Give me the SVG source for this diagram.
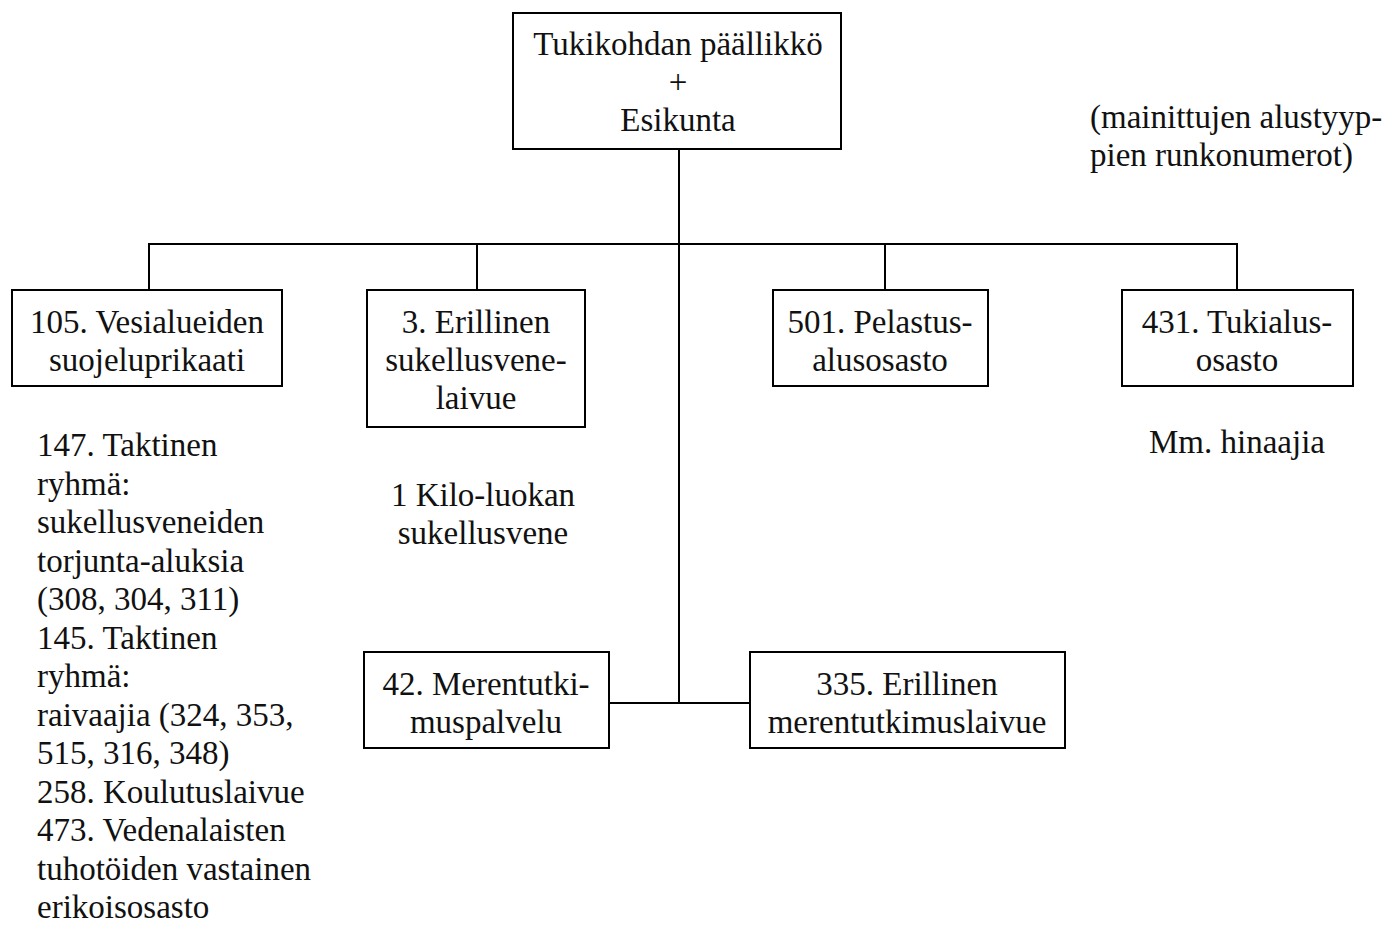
<svg xmlns="http://www.w3.org/2000/svg" width="1382" height="927" viewBox="0 0 1382 927">
<style>
.box{fill:#fff;stroke:#000;stroke-width:2}
.ln{fill:none;stroke:#000;stroke-width:2}
text{font-family:"Liberation Serif","DejaVu Serif",serif;font-size:33px;fill:#111}
.c{text-anchor:middle}
</style>
<rect width="1382" height="927" fill="#fff"/>
<g id="connectors">
<path class="ln" d="M679 149 V703"/>
<path class="ln" d="M149 290 V244 H1237 V290"/>
<path class="ln" d="M477 244 V290"/>
<path class="ln" d="M885 244 V290"/>
<path class="ln" d="M609 703 H750"/>
</g>
<g id="n-top">
<rect class="box" x="513" y="13" width="328" height="136"/>
<text class="c" x="678" y="55">Tukikohdan päällikkö</text>
<text class="c" x="678" y="93">+</text>
<text class="c" x="678" y="131">Esikunta</text>
</g>
<g id="n-105">
<rect class="box" x="12" y="290" width="270" height="96"/>
<text class="c" x="147" y="333">105. Vesialueiden</text>
<text class="c" x="147" y="371">suojeluprikaati</text>
</g>
<g id="n-3">
<rect class="box" x="367" y="290" width="218" height="137"/>
<text class="c" x="476" y="333">3. Erillinen</text>
<text class="c" x="476" y="371">sukellusvene-</text>
<text class="c" x="476" y="409">laivue</text>
</g>
<g id="n-501">
<rect class="box" x="773" y="290" width="215" height="96"/>
<text class="c" x="880" y="333">501. Pelastus-</text>
<text class="c" x="880" y="371">alusosasto</text>
</g>
<g id="n-431">
<rect class="box" x="1122" y="290" width="231" height="96"/>
<text class="c" x="1237" y="333">431. Tukialus-</text>
<text class="c" x="1237" y="371">osasto</text>
</g>
<g id="n-42">
<rect class="box" x="364" y="652" width="245" height="96"/>
<text class="c" x="486" y="695">42. Merentutki-</text>
<text class="c" x="486" y="733">muspalvelu</text>
</g>
<g id="n-335">
<rect class="box" x="750" y="652" width="315" height="96"/>
<text class="c" x="907" y="695">335. Erillinen</text>
<text class="c" x="907" y="733">merentutkimuslaivue</text>
</g>
<g id="notes">
<text x="1090" y="128">(mainittujen alustyyp-</text>
<text x="1090" y="166">pien runkonumerot)</text>
<text class="c" x="1237" y="453">Mm. hinaajia</text>
<text class="c" x="483" y="506">1 Kilo-luokan</text>
<text class="c" x="483" y="544">sukellusvene</text>
<text x="37" y="456">147. Taktinen</text>
<text x="37" y="494.5">ryhmä:</text>
<text x="37" y="533">sukellusveneiden</text>
<text x="37" y="571.5">torjunta-aluksia</text>
<text x="37" y="610">(308, 304, 311)</text>
<text x="37" y="648.5">145. Taktinen</text>
<text x="37" y="687">ryhmä:</text>
<text x="37" y="725.5">raivaajia (324, 353,</text>
<text x="37" y="764">515, 316, 348)</text>
<text x="37" y="802.5">258. Koulutuslaivue</text>
<text x="37" y="841">473. Vedenalaisten</text>
<text x="37" y="879.5">tuhotöiden vastainen</text>
<text x="37" y="918">erikoisosasto</text>
</g>
</svg>
